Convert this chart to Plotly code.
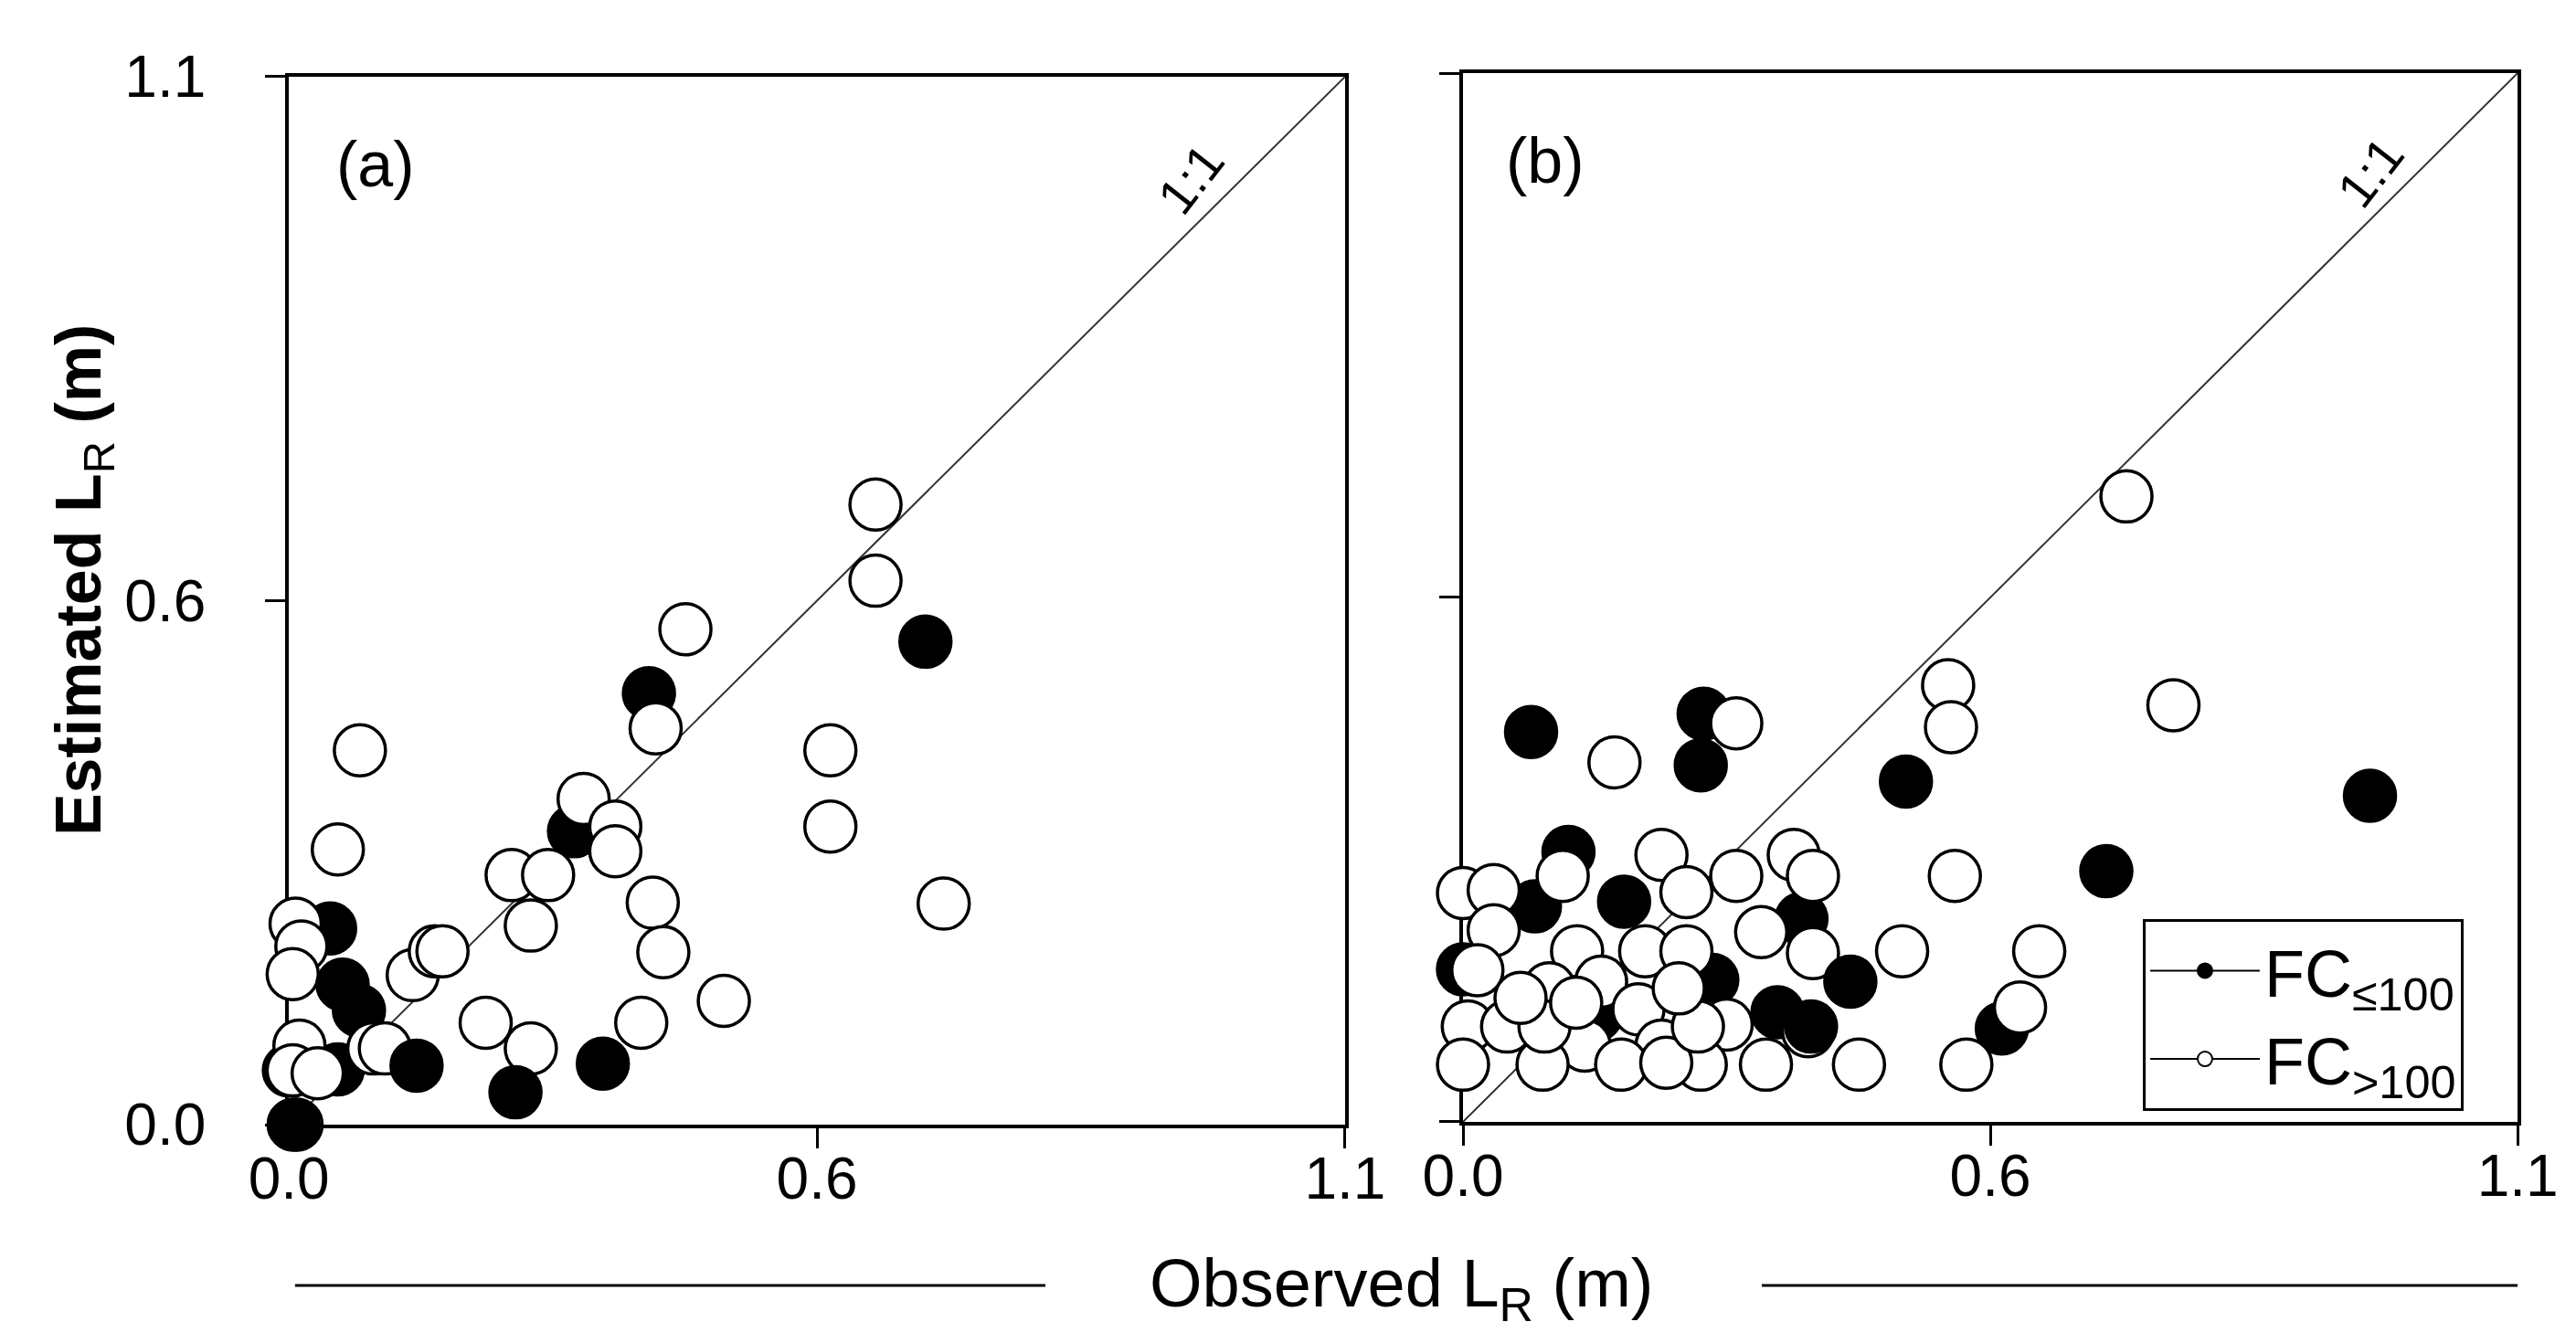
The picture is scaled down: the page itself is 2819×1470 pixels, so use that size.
import plotly.graph_objects as go

# ---- data (observed, estimated root length, m) ----
# fc flag: 1 = FC<=100 (filled), 0 = FC>100 (open); list order = drawing order
obs_a = [0.043, 0.073, 0.051, 0.000, 0.297, 0.375, 0.008,
         0.007, 0.013, 0.004, 0.051, 0.074, 0.011, 0.004, 0.030, 0.088, 0.100,
         0.129, 0.152, 0.160, 0.205, 0.232, 0.270, 0.252, 0.252, 0.307, 0.340,
         0.340, 0.382, 0.413, 0.379, 0.390, 0.367, 0.453, 0.564, 0.564, 0.611,
         0.611, 0.682,
         0.005, 0.056, 0.133, 0.236, 0.327, 0.663]
est_a = [0.206, 0.120, 0.058, 0.057, 0.308, 0.453, 0.000,
         0.211, 0.187, 0.158, 0.289, 0.393, 0.083, 0.057, 0.054, 0.080, 0.080,
         0.157, 0.182, 0.182, 0.107, 0.262, 0.262, 0.209, 0.080, 0.342, 0.313,
         0.287, 0.416, 0.520, 0.233, 0.181, 0.107, 0.130, 0.393, 0.313, 0.651,
         0.571, 0.232,
         0.000, 0.147, 0.062, 0.034, 0.064, 0.507]
fc_a = [1, 1, 1, 1, 1, 1, 0,
        0, 0, 0, 0, 0, 0, 0, 0, 0, 0,
        0, 0, 0, 0, 0, 0, 0, 0, 0, 0,
        0, 0, 0, 0, 0, 0, 0, 0, 0, 0,
        0, 0,
        1, 1, 1, 1, 1, 1]

obs_b = [0.251, 0.110, 0.562, 0.075, 0.328, 0.260, 0.139, 0.000, 0.353,
         0.285, 0.158, 0.506, 0.509, 0.741, 0.692, 0.513, 0.601, 0.581, 0.525,
         0.458, 0.413, 0.360, 0.316, 0.275, 0.365, 0.311, 0.345, 0.365, 0.285,
         0.207, 0.233, 0.104, 0.000, 0.032, 0.032, 0.119, 0.190, 0.233, 0.015,
         0.090, 0.144, 0.183, 0.005, 0.046, 0.127, 0.207, 0.000, 0.083, 0.165,
         0.248, 0.212, 0.085, 0.245, 0.060, 0.118, 0.225,
         0.071, 0.248, 0.462, 0.946, 0.671, 0.404, 0.363, 0.168]
est_b = [0.428, 0.283, 0.098, 0.226, 0.115, 0.149, 0.112, 0.160, 0.213,
         0.418, 0.377, 0.458, 0.414, 0.437, 0.656, 0.258, 0.179, 0.120, 0.060,
         0.179, 0.060, 0.095, 0.060, 0.102, 0.177, 0.199, 0.280, 0.258, 0.258,
         0.280, 0.241, 0.258, 0.240, 0.243, 0.201, 0.179, 0.179, 0.179, 0.159,
         0.140, 0.147, 0.118, 0.100, 0.100, 0.080, 0.080, 0.060, 0.060, 0.060,
         0.060, 0.062, 0.100, 0.100, 0.130, 0.125, 0.140,
         0.409, 0.374, 0.357, 0.342, 0.263, 0.147, 0.100, 0.231]
fc_b = [1, 1, 1, 1, 1, 1, 1, 1, 1,
        0, 0, 0, 0, 0, 0, 0, 0, 0, 0,
        0, 0, 0, 0, 0, 0, 0, 0, 0, 0,
        0, 0, 0, 0, 0, 0, 0, 0, 0, 0,
        0, 0, 0, 0, 0, 0, 0, 0, 0, 0,
        0, 0, 0, 0, 0, 0, 0,
        1, 1, 1, 1, 1, 1, 1, 1]

one_to_one = [0.0, 1.1]
tick_vals = [0.0, 0.55, 1.1]
tick_text = ["0.0", "0.6", "1.1"]
legend_names = ["FC<sub>≤100</sub>", "FC<sub>>100</sub>"]

FONT = "Liberation Sans, Arial, sans-serif"
fill_colour = {1: "black", 0: "white"}

fig = go.Figure()

panels = [("x", "y", obs_a, est_a, fc_a), ("x2", "y2", obs_b, est_b, fc_b)]
for xa, ya, obs, est, fc in panels:
    fig.add_trace(go.Scatter(x=one_to_one, y=one_to_one, mode="lines",
                             line=dict(color="#333333", width=2),
                             xaxis=xa, yaxis=ya, showlegend=False, hoverinfo="skip"))
    fig.add_trace(go.Scatter(x=obs, y=est, mode="markers", cliponaxis=False,
                             marker=dict(size=56, color=[fill_colour[g] for g in fc],
                                         line=dict(color="black", width=3.5)),
                             xaxis=xa, yaxis=ya, showlegend=False))

# legend entries (line + marker symbol like the original)
for name, flag in zip(legend_names, [1, 0]):
    fig.add_trace(go.Scatter(x=[None], y=[None], mode="lines+markers", name=name,
                             marker=dict(size=16, color=fill_colour[flag],
                                         line=dict(color="black", width=2)),
                             line=dict(color="black", width=2),
                             xaxis="x2", yaxis="y2"))

axis_common = dict(range=[0, 1.1], tickvals=tick_vals, ticktext=tick_text,
                   ticks="outside", ticklen=22, tickwidth=3, tickcolor="black",
                   showline=True, linewidth=4, linecolor="black", mirror=True,
                   showgrid=False, zeroline=False, layer="below traces",
                   tickfont=dict(family=FONT, size=64, color="black"))


def label(text, x, y, size, angle=0):
    return dict(text=text, x=x, y=y, xref="paper", yref="paper", showarrow=False,
                xanchor="center", yanchor="middle", textangle=angle,
                font=dict(size=size, family=FONT, color="black"))


fig.update_layout(
    template="none",
    width=2819, height=1470,
    margin=dict(l=0, r=0, t=0, b=0),
    paper_bgcolor="white", plot_bgcolor="white",
    font=dict(family=FONT, color="black"),
    xaxis=dict(axis_common, domain=[0.1093, 0.5193], anchor="y", ticklabelstandoff=-22),
    yaxis=dict(axis_common, domain=[0.1680, 0.9483], anchor="x", ticklabelstandoff=52),
    xaxis2=dict(axis_common, domain=[0.5651, 0.9745], anchor="y2", ticklabelstandoff=-22),
    yaxis2=dict(axis_common, domain=[0.1701, 0.9510], anchor="x2", showticklabels=False),
    legend=dict(x=0.829, y=0.321, xanchor="left", yanchor="top",
                bordercolor="black", borderwidth=3, bgcolor="white",
                itemwidth=120, tracegroupgap=0,
                font=dict(family=FONT, size=72, color="black")),
    annotations=[
        label("(a)", 0.1430, 0.883, 70),
        label("(b)", 0.5970, 0.886, 70),
        label("1:1", 0.4595, 0.8724, 56, -52),
        label("1:1", 0.9174, 0.8772, 56, -52),
        label("<b>Estimated L</b><sub>R</sub><b> (m)</b>", 0.0295, 0.5735, 70, -90),
        label("Observed L<sub>R</sub> (m)", 0.5413, 0.0463, 74),
    ],
    shapes=[
        dict(type="line", xref="paper", yref="paper", x0=0.1117, x1=0.4030,
             y0=0.0483, y1=0.0483, line=dict(color="black", width=3)),
        dict(type="line", xref="paper", yref="paper", x0=0.6811, x1=0.9745,
             y0=0.0483, y1=0.0483, line=dict(color="black", width=3)),
    ],
)

fig.write_html("out.html")
